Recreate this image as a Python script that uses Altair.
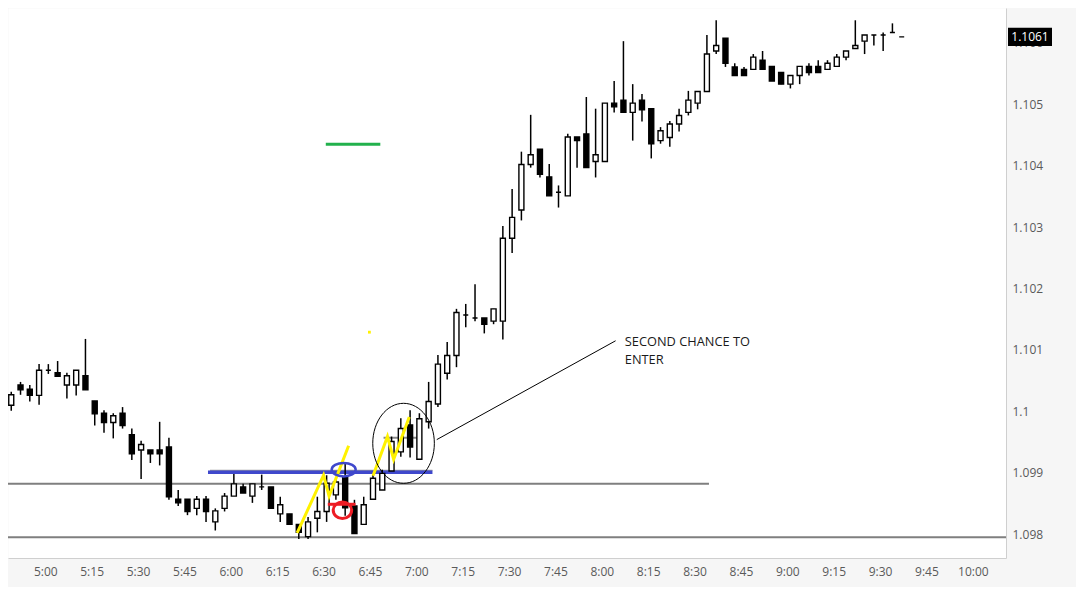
import altair as alt
import pandas as pd

# 3-minute candles
opens = [
    1.10010, 1.10043, 1.10036, 1.10026, 1.10067, 1.10063, 1.10043, 1.10043, 1.10058, 1.10017,
    1.09997, 1.09982, 1.09997, 1.09962, 1.09937, 1.09937, 1.09937, 1.09942, 1.09857, 1.09857,
    1.09842, 1.09857, 1.09820, 1.09842, 1.09862, 1.09877, 1.09862, 1.09877, 1.09877, 1.09833,
    1.09833, 1.09816, 1.09796, 1.09826, 1.09837, 1.09864, 1.09892, 1.09846, 1.09816, 1.09857,
    1.09872, 1.09903, 1.09934, 1.09978, 1.09922, 1.09983, 1.10012, 1.10062, 1.10091, 1.10157,
    1.10152, 1.10152, 1.10147, 1.10147, 1.10282, 1.10328, 1.10402, 1.10427, 1.10382, 1.10357,
    1.10351, 1.10447, 1.10452, 1.10407, 1.10407, 1.10502, 1.10507, 1.10487, 1.10507, 1.10493,
    1.10441, 1.10446, 1.10468, 1.10487, 1.10502, 1.10521, 1.10587, 1.10608, 1.10561, 1.10557,
    1.10557, 1.10572, 1.10562, 1.10552, 1.10533, 1.10547, 1.10562, 1.10562, 1.10557, 1.10562,
    1.10577, 1.10591, 1.10603, 1.10613, 1.10613, 1.10617, 1.10610,
]
highs = [
    1.10032, 1.10048, 1.10043, 1.10077, 1.10077, 1.10082, 1.10063, 1.10067, 1.10118, 1.10017,
    1.10002, 1.09997, 1.10007, 1.09972, 1.09952, 1.09937, 1.09983, 1.09957, 1.09872, 1.09857,
    1.09862, 1.09862, 1.09842, 1.09867, 1.09898, 1.09882, 1.09882, 1.09897, 1.09877, 1.09861,
    1.09833, 1.09816, 1.09828, 1.09861, 1.09896, 1.09893, 1.09915, 1.09856, 1.09861, 1.09898,
    1.09905, 1.09959, 1.09989, 1.10002, 1.09997, 1.10048, 1.10092, 1.10113, 1.10167, 1.10175,
    1.10207, 1.10152, 1.10167, 1.10302, 1.10362, 1.10423, 1.10483, 1.10427, 1.10403, 1.10368,
    1.10452, 1.10447, 1.10512, 1.10493, 1.10502, 1.10538, 1.10603, 1.10533, 1.10517, 1.10493,
    1.10463, 1.10473, 1.10493, 1.10522, 1.10521, 1.10613, 1.10637, 1.10608, 1.10567, 1.10561,
    1.10582, 1.10587, 1.10562, 1.10552, 1.10547, 1.10562, 1.10567, 1.10572, 1.10572, 1.10582,
    1.10587, 1.10637, 1.10613, 1.10613, 1.10617, 1.10632, 1.10610,
]
lows = [
    1.10001, 1.10027, 1.10016, 1.10011, 1.10061, 1.10057, 1.10021, 1.10026, 1.10035, 1.09977,
    1.09965, 1.09956, 1.09972, 1.09921, 1.09890, 1.09916, 1.09912, 1.09856, 1.09846, 1.09831,
    1.09831, 1.09820, 1.09806, 1.09837, 1.09862, 1.09867, 1.09851, 1.09872, 1.09842, 1.09820,
    1.09815, 1.09792, 1.09792, 1.09803, 1.09820, 1.09856, 1.09830, 1.09801, 1.09816, 1.09857,
    1.09872, 1.09903, 1.09926, 1.09925, 1.09922, 1.09972, 1.10007, 1.10052, 1.10072, 1.10137,
    1.10147, 1.10127, 1.10142, 1.10117, 1.10258, 1.10311, 1.10397, 1.10381, 1.10351, 1.10332,
    1.10351, 1.10397, 1.10397, 1.10381, 1.10407, 1.10487, 1.10487, 1.10441, 1.10472, 1.10412,
    1.10436, 1.10431, 1.10456, 1.10482, 1.10492, 1.10521, 1.10582, 1.10561, 1.10547, 1.10547,
    1.10557, 1.10557, 1.10538, 1.10533, 1.10526, 1.10533, 1.10547, 1.10552, 1.10557, 1.10562,
    1.10572, 1.10591, 1.10582, 1.10596, 1.10587, 1.10617, 1.10610,
]
closes = [
    1.10027, 1.10035, 1.10026, 1.10067, 1.10067, 1.10057, 1.10058, 1.10067, 1.10035, 1.09996,
    1.09982, 1.09993, 1.09977, 1.09931, 1.09946, 1.09931, 1.09931, 1.09861, 1.09851, 1.09837,
    1.09857, 1.09837, 1.09838, 1.09862, 1.09882, 1.09867, 1.09882, 1.09877, 1.09842, 1.09848,
    1.09816, 1.09803, 1.09820, 1.09837, 1.09883, 1.09885, 1.09843, 1.09801, 1.09848, 1.09891,
    1.09899, 1.09951, 1.09972, 1.09942, 1.09988, 1.10016, 1.10077, 1.10091, 1.10161, 1.10157,
    1.10152, 1.10142, 1.10167, 1.10282, 1.10316, 1.10402, 1.10418, 1.10386, 1.10351, 1.10357,
    1.10447, 1.10441, 1.10397, 1.10418, 1.10502, 1.10496, 1.10487, 1.10502, 1.10491, 1.10436,
    1.10457, 1.10468, 1.10482, 1.10507, 1.10521, 1.10582, 1.10596, 1.10567, 1.10547, 1.10547,
    1.10577, 1.10557, 1.10538, 1.10533, 1.10547, 1.10562, 1.10552, 1.10552, 1.10567, 1.10577,
    1.10587, 1.10596, 1.10613, 1.10613, 1.10613, 1.10617, 1.10610,
]
FIRST_CANDLE = "04:49:00"
CANDLE_MINUTES = 3

# horizontal levels drawn on the chart
gray_level_prices = [1.09882, 1.09795]
gray_level_from = ["04:40:00", "04:40:00"]
gray_level_to = ["08:34:40", "10:20:00"]
blue_level_price = [1.09901]
blue_level_from = ["05:52:38"]
blue_level_to = ["07:05:14"]
edge_level_price = [1.09904]
edge_level_from = ["05:53:17"]
edge_level_to = ["07:05:14"]
inner_level_price = [1.09957]
inner_level_from = ["06:49:25"]
inner_level_to = ["07:01:10"]
red_level_price = [1.098487]
red_level_from = ["06:31:23"]
red_level_to = ["06:40:21"]
green_level_price = [1.10435]
green_level_from = ["06:30:44"]
green_level_to = ["06:48:22"]

# yellow zig-zag swings
zig_group = [1, 1, 1, 1, 2, 2, 2, 2]
zig_order = [0, 1, 2, 3, 0, 1, 2, 3]
zig_time = ["06:21:28", "06:30:01", "06:31:48", "06:38:07",
            "06:46:01", "06:50:41", "06:52:41", "06:57:44"]
zig_price = [1.09802, 1.09896, 1.09862, 1.09944,
             1.09895, 1.09959, 1.09922, 1.09991]

# circled spots
blue_oval = (["06:36:31"], [1.09905])
red_oval = (["06:36:07"], [1.09839])
black_oval = (["06:55:53"], [1.09948])
yellow_dot = (["06:44:50"], [1.10129])

# pointer line and note
pointer_time = ["07:06:37", "08:04:28"]
pointer_price = [1.09954, 1.10115]
note_lines = ["SECOND CHANCE TO", "ENTER"]
note_time = ["08:07:26", "08:07:26"]
note_price = [1.10113, 1.10084]

last_price = [1.1061]
y_ticks = [1.098, 1.099, 1.100, 1.101, 1.102, 1.103, 1.104, 1.105, 1.106]
x_ticks = ["05:00", "05:15", "05:30", "05:45", "06:00", "06:15", "06:30", "06:45",
           "07:00", "07:15", "07:30", "07:45", "08:00", "08:15", "08:30", "08:45",
           "09:00", "09:15", "09:30", "09:45", "10:00"]
x_range = ["04:49:34", "10:09:07"]

W, H = 998, 550
FONT = "Open Sans"


def mins(values):
    """'HH:MM[:SS]' -> minutes after midnight."""
    out = []
    for v in values:
        parts = [float(s) for s in v.split(":")]
        out.append(parts[0] * 60 + parts[1] + (parts[2] / 60 if len(parts) > 2 else 0))
    return out


def segs(prices, starts, ends):
    return pd.DataFrame({"p": prices, "t": mins(starts), "t2": mins(ends)})


start = mins([FIRST_CANDLE])[0]
candles = pd.DataFrame({
    "t": [start + CANDLE_MINUTES * i for i in range(len(opens))],
    "open": opens, "high": highs, "low": lows, "close": closes,
})
candles["dir"] = ["up" if c >= o else "down" for o, c in zip(opens, closes)]

x_scale = alt.Scale(domain=mins(x_range), zero=False, nice=False)
y_scale = alt.Scale(domain=[1.097612, 1.10657], zero=False, nice=False)
x_axis = alt.Axis(
    values=mins(x_ticks),
    labelExpr="floor(datum.value / 60) + ':' + (datum.value % 60 < 10 ? '0' : '') + (datum.value % 60)",
    grid=False, ticks=False, labelFont=FONT, labelFontSize=12, labelColor="#5a5a5a",
    labelPadding=8, labelFlush=False, labelOverlap=False, domainColor="#cfcfcf",
)
y_axis = alt.Axis(
    orient="right", values=y_ticks, format=".3~f", grid=False, ticks=False,
    labelFont=FONT, labelFontSize=12, labelColor="#5a5a5a", labelPadding=6,
    labelFlush=False, domainColor="#cfcfcf",
)


def xenc(field):
    return alt.X(f"{field}:Q", scale=x_scale, axis=x_axis, title=None)


def yenc(field):
    return alt.Y(f"{field}:Q", scale=y_scale, axis=y_axis, title=None)


def level(df, color, width):
    return alt.Chart(df).mark_rule(color=color, strokeWidth=width, clip=True).encode(
        x=xenc("t"), x2="t2", y=yenc("p")
    )


def oval(spot, path, size, color, width):
    df = pd.DataFrame({"t": mins(spot[0]), "p": spot[1]})
    return alt.Chart(df).mark_point(
        shape=path, size=size, filled=False, stroke=color, strokeWidth=width, opacity=1
    ).encode(x=xenc("t"), y=yenc("p"))


wicks = alt.Chart(candles).mark_rule(color="black", strokeWidth=1.5, clip=True).encode(
    x=xenc("t"), y=yenc("low"), y2="high"
)
bodies = alt.Chart(candles).mark_bar(
    width=5, stroke="black", strokeWidth=1.4, clip=True
).encode(
    x=xenc("t"), y=yenc("open"), y2="close",
    fill=alt.Fill("dir:N", scale=alt.Scale(domain=["up", "down"], range=["white", "black"]), legend=None),
)

gray_levels = level(segs(gray_level_prices, gray_level_from, gray_level_to), "#7f7f7f", 2)
edge_level = level(segs(edge_level_price, edge_level_from, edge_level_to), "#9a9a9a", 1.2)
blue_level = level(segs(blue_level_price, blue_level_from, blue_level_to), "#3f48cc", 3.5)
inner_level = level(segs(inner_level_price, inner_level_from, inner_level_to), "#8a8a8a", 2)
red_level = level(segs(red_level_price, red_level_from, red_level_to), "#ed1c24", 3)
green_level = level(segs(green_level_price, green_level_from, green_level_to), "#22b14c", 3)

zig_df = pd.DataFrame({"t": mins(zig_time), "p": zig_price, "g": zig_group, "o": zig_order})
zigzag = alt.Chart(zig_df).mark_line(color="#fff200", strokeWidth=3, clip=True).encode(
    x=xenc("t"), y=yenc("p"), detail="g:N", order="o:Q"
)

blue_ring = oval(blue_oval,
                 "M1,0C1,0.309,0.552,0.56,0,0.56C-0.552,0.56,-1,0.309,-1,0"
                 "C-1,-0.309,-0.552,-0.56,0,-0.56C0.552,-0.56,1,-0.309,1,0Z",
                 576, "#3f48cc", 2.5)
red_ring = oval(red_oval,
                "M1,0C1,0.497,0.552,0.9,0,0.9C-0.552,0.9,-1,0.497,-1,0"
                "C-1,-0.497,-0.552,-0.9,0,-0.9C0.552,-0.9,1,-0.497,1,0Z",
                339, "#ed1c24", 3)
black_ring = oval(black_oval,
                  "M0.77,0C0.77,0.552,0.425,1,0,1C-0.425,1,-0.77,0.552,-0.77,0"
                  "C-0.77,-0.552,-0.425,-1,0,-1C0.425,-1,0.77,-0.552,0.77,0Z",
                  6400, "black", 1)

dot_df = pd.DataFrame({"t": mins(yellow_dot[0]), "p": yellow_dot[1]})
dot = alt.Chart(dot_df).mark_square(size=8, color="#fff200", opacity=1).encode(
    x=xenc("t"), y=yenc("p")
)

pointer_df = pd.DataFrame({
    "t": mins(pointer_time[:1]), "t2": mins(pointer_time[1:]),
    "p": pointer_price[:1], "p2": pointer_price[1:],
})
pointer = alt.Chart(pointer_df).mark_rule(color="black", strokeWidth=1).encode(
    x=xenc("t"), x2="t2", y=yenc("p"), y2="p2"
)

note_df = pd.DataFrame({"t": mins(note_time), "p": note_price, "txt": note_lines})
note = alt.Chart(note_df).mark_text(
    align="left", baseline="middle", font=FONT, fontSize=12.8, color="#1a1a1a"
).encode(x=xenc("t"), y=yenc("p"), text="txt:N")

last_df = pd.DataFrame({"p": last_price, "txt": ["1.1061"]})
last_box = alt.Chart(last_df).mark_point(
    shape="M-1,-0.41L1,-0.41L1,0.41L-1,0.41Z", size=1936, filled=True,
    color="black", opacity=1, strokeWidth=0
).encode(x=alt.value(W + 24), y=yenc("p"))
last_text = alt.Chart(last_df).mark_text(
    align="center", baseline="middle", font=FONT, fontSize=12, color="white"
).encode(x=alt.value(W + 24), y=yenc("p"), text="txt:N")

chart = alt.layer(
    gray_levels, edge_level, blue_level, inner_level, wicks, bodies,
    green_level, dot, zigzag, blue_ring, red_level, red_ring, black_ring,
    pointer, note, last_box, last_text,
).properties(
    width=W, height=H,
    autosize=alt.AutoSizeParams(type="none"),
    padding={"left": 0, "top": 0, "right": 70, "bottom": 29},
    background="#f6f6f6",
).configure_view(fill="white", stroke="transparent")

chart.save("out.html", embed_options={"renderer": "svg", "actions": False})
